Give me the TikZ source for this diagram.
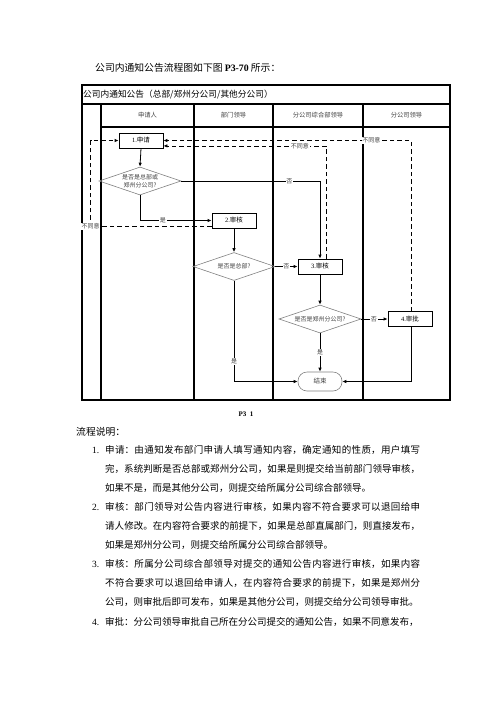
\documentclass[tikz,border=0pt]{standalone}
\usepackage{fontspec}
\setmainfont{Noto Sans CJK SC}
\newfontfamily\lat{Liberation Serif}
\usetikzlibrary{shapes.geometric,arrows.meta,calc}
\XeTeXlinebreaklocale "zh"
\XeTeXlinebreakskip=0pt plus 2pt
\begin{document}
\begin{tikzpicture}[x=1pt,y=-1pt,
  tbl/.style={line width=1.1pt},
  proc/.style={draw,line width=0.8pt,minimum width=44pt,minimum height=15pt,inner sep=0pt,font=\fontsize{6.5}{7}\selectfont},
  dec/.style={draw=gray,line width=0.6pt,shape=diamond,aspect=2.93,minimum width=82pt,minimum height=28pt,inner sep=0pt,text=darkgray,font=\fontsize{6}{8}\selectfont,align=center},
  term/.style={draw=gray,line width=0.6pt,rounded corners=9pt,minimum width=44pt,minimum height=19pt,inner sep=0pt,text=darkgray,font=\fontsize{6.5}{7}\selectfont},
  flow/.style={line width=0.8pt,-{Latex[length=4pt,width=3.5pt]}},
  back/.style={flow,dash pattern=on 4.5pt off 3pt},
  lbl/.style={fill=white,inner sep=0.6pt,text=darkgray,font=\fontsize{6}{7}\selectfont},
  hd/.style={font=\fontsize{6.3}{7}\selectfont,text=darkgray,inner sep=0pt},
  body/.style={font=\fontsize{9.5}{19.1}\selectfont,inner sep=0pt,text width=315pt,align=justify,anchor=base west},
  num/.style={font=\lat\fontsize{9.5}{10}\selectfont,inner sep=0pt,anchor=base west},
]
\path[use as bounding box] (0,0) rectangle (496,702);

% heading
\node[anchor=base west,inner sep=0pt,font=\fontsize{9.8}{10}\selectfont] (head) at (95,71.5) {公司内通知公告流程图如下图 {\lat\bfseries P3-70} 所示：};

% table
\draw[tbl] (82,85) rectangle (450,400);
\draw[tbl] (82,104) -- (450,104);
\draw[tbl] (101,127) -- (450,127);
\foreach \x in {101,194,273,363} \draw[tbl] (\x,104) -- (\x,400);
\node[anchor=west,inner sep=0pt,font=\fontsize{8.7}{9}\selectfont] (title) at (83,94.5) {公司内通知公告（总部/郑州分公司/其他分公司）};
\node[hd] (h1) at (147.5,115.5) {申请人};
\node[hd] (h2) at (233.5,115.5) {部门领导};
\node[hd] (h3) at (318,115.5) {分公司综合部领导};
\node[hd] (h4) at (406.5,115.5) {分公司领导};

% flow nodes
\node[proc] (A) at (141,140.5) {{\lat 1.}申请};
\node[dec] (D1) at (140,181) {是否是总部或\\郑州分公司?};
\node[proc] (B) at (234,220.5) {{\lat 2.}审核};
\node[dec] (D2) at (234,266.5) {是否是总部?};
\node[proc] (C) at (320,266.5) {{\lat 3.}审核};
\node[dec] (D3) at (320,319) {是否是郑州分公司?};
\node[proc] (E) at (410,319) {{\lat 4.}审批};
\node[term] (F) at (320,381.5) {结束};

% solid connectors
\draw[flow] (A.south) -- (D1.north);
\draw[flow] (D1.south) |- node[lbl,pos=0.66] (l1) {是} (B.west);
\draw[flow] (D1.east) -| node[lbl,pos=0.39] (l2) {否} (C.north);
\draw[flow] (B.south) -- (D2.north);
\draw[flow] (D2.east) -- node[lbl,pos=0.5] (l3) {否} (C.west);
\draw[flow] (C.south) -- (D3.north);
\draw[flow] (D3.east) -- node[lbl,pos=0.48] (l4) {否} (E.west);
\draw[flow] (D3.south) -- node[lbl,pos=0.5] (l5) {是} (F.north);
\draw[flow] (D2.south) |- node[lbl,pos=0.40] (l6) {是} (F.west);
\draw[flow] ($(E.south)+(1,0)$) |- (F.east);

% dashed return connectors
\draw[back] ($(B.south west)+(0,-2)$) -| node[lbl,pos=0.5] (l7) {不同意} ($(A.west)+(-28,0)$) -- (A.west);
\draw[back] ($(C.north)+(6,0)$) |- node[lbl,pos=0.58] (l8) {不同意} ($(A.south east)+(0,-2.5)$);
\draw[back] ($(E.north)+(1,0)$) |- node[lbl,pos=0.58] (l9) {不同意} (A.east);

% caption and text
\node[inner sep=0pt,font=\lat\bfseries\fontsize{7}{8}\selectfont] (cap) at (246,414) {P3\ \ 1};
\node[anchor=base west,inner sep=0pt,font=\fontsize{9.8}{10}\selectfont] (sub) at (76,435.6) {流程说明：};

\node[num] (n1) at (92,453.1) {1.};
\node[body] (p1) at (105,453.1) {申请：由通知发布部门申请人填写通知内容，确定通知的性质，用户填写\linebreak 完，系统判断是否总部或郑州分公司，如果是则提交给当前部门领导审核，\linebreak 如果不是，而是其他分公司，则提交给所属分公司综合部领导。};
\node[num] (n2) at (92,510.4) {2.};
\node[body] (p2) at (105,510.4) {审核：部门领导对公告内容进行审核，如果内容不符合要求可以退回给申\linebreak 请人修改。在内容符合要求的前提下，如果是总部直属部门，则直接发布，\linebreak 如果是郑州分公司，则提交给所属分公司综合部领导。};
\node[num] (n3) at (92,567.7) {3.};
\node[body] (p3) at (105,567.7) {审核：所属分公司综合部领导对提交的通知公告内容进行审核，如果内容\linebreak 不符合要求可以退回给申请人，在内容符合要求的前提下，如果是郑州分\linebreak 公司，则审批后即可发布，如果是其他分公司，则提交给分公司领导审批。};
\node[num] (n4) at (92,625) {4.};
\node[body] (p4) at (105,625) {审批：分公司领导审批自己所在分公司提交的通知公告，如果不同意发布，};
\end{tikzpicture}
\end{document}
